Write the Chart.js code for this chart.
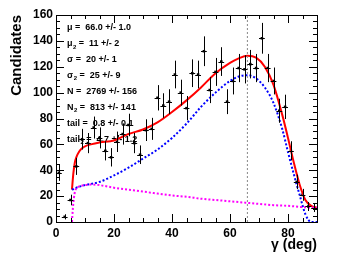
<!DOCTYPE html>
<html>
<head>
<meta charset="utf-8">
<script src="https://cdn.jsdelivr.net/npm/chart.js@4.4.0/dist/chart.umd.min.js"></script>
<style>
  html, body { margin: 0; padding: 0; background: #fff; }
  #box { width: 353px; height: 265px; }
</style>
</head>
<body>
<div id="box"><canvas id="grafico" width="353" height="265"></canvas></div>
<script>
// bins (centro) e contagens
const binX = [1, 3, 5, 7, 9, 11, 13, 15, 17, 19, 21, 23, 25, 27, 29, 31, 33, 35, 37, 39, 41, 43, 45,
              47, 49, 51, 53, 55, 57, 59, 61, 63, 65, 67, 69, 71, 73, 75, 77, 79, 81, 83, 85, 87, 89];
const contagens = [38, 4, 17, 43, 64, 61, 73, 65, 55, 50, 62, 68, 75, 61, 52, 71, 72, 96, 90, 93, 114, 100, 88,
                   115, 114, 132, 102, 116, 124, 93, 109, 119, 118, 122, 119, 142, 119, 109, 86, 89, 55, 31, 21, 12, 11];
const erros = [6.2, 2, 4.1, 6.6, 8, 7.8, 8.5, 8.1, 7.4, 7.1, 7.9, 8.2, 8.7, 7.8, 7.2, 8.4, 8.5, 9.8, 9.5, 9.6, 10.7, 10, 9.4,
               10.7, 10.7, 11.5, 10.1, 10.8, 11.1, 9.6, 10.4, 10.9, 10.9, 11, 10.9, 11.9, 10.9, 10.4, 9.3, 9.4, 7.4, 5.6, 4.6, 3.5, 3.3];
const meiaLargura = 1;

// curvas do ajuste
const totalX = [5.5, 6, 6.5, 7, 8, 9, 10, 12, 15, 20, 25, 30, 35, 40, 45, 50, 55, 60, 63, 66, 69, 72, 75, 78, 80, 82, 84, 86, 88, 90];
const totalY = [25, 38, 46, 50, 54.5, 57, 58.5, 60, 61.5, 63, 68, 71.5, 77, 85, 94, 104, 115, 123, 126.5, 128.5, 127, 120, 106, 83, 65, 46, 29, 17, 12.5, 11];
const picoX = [5.5, 7, 10, 15, 20, 25, 30, 35, 40, 45, 50, 55, 60, 63, 66, 69, 72, 75, 78, 80, 82, 84, 86, 88, 90];
const picoY = [25, 26.5, 28.5, 31, 36, 42, 49, 56, 65, 76, 89, 100, 109, 112.5, 113.5, 111, 104, 92, 72, 54, 37, 21, 6, 0, 0];
const caudaX = [5.5, 5.8, 6.2, 6.6, 7, 8, 10, 12, 15, 20, 25, 30, 35, 40, 45, 50, 55, 60, 65, 70, 75, 80, 85, 90];
const caudaY = [0, 10, 19, 24, 26, 27.5, 28.5, 29, 28.5, 26.5, 25, 23.5, 22, 20.5, 19.5, 18, 17, 16, 15, 14, 13, 12.5, 11.5, 11];

const media = 66.0;

// caixa de parametros: [simbolo, subscrito, resto]
const parametros = [
  ['\u03bc', '', ' =  66.0 +/- 1.0'],
  ['\u03bc', '2', ' =  11 +/- 2'],
  ['\u03c3', '', ' =  20 +/- 1'],
  ['\u03c3', '2', ' =  25 +/- 9'],
  ['N', '', ' =  2769 +/- 156'],
  ['N', '2', ' =  813 +/- 141'],
  ['tail', '', ' =  0.8 +/- 0.1'],
  ['tail', '2', ' =  4.7 +/- 1.2']
];

function pares(xs, ys) {
  return xs.map((x, i) => ({ x: x, y: ys[i] }));
}

const FONTE = '"Liberation Sans", Arial, sans-serif';

const pluginMoldura = {
  id: 'moldura',
  beforeDatasetsDraw(chart) {
    const ctx = chart.ctx;
    const a = chart.chartArea;
    ctx.save();
    ctx.fillStyle = '#000';
    ctx.textBaseline = 'middle';
    let y = a.top + 13;
    parametros.forEach(p => {
      let x = a.left + 11;
      ctx.font = 'bold 9px ' + FONTE;
      ctx.fillText(p[0], x, y);
      x += ctx.measureText(p[0]).width;
      if (p[1]) {
        ctx.font = 'bold 6px ' + FONTE;
        ctx.fillText(p[1], x + 0.5, y + 3);
        x += ctx.measureText(p[1]).width + 0.5;
        ctx.font = 'bold 9px ' + FONTE;
      }
      ctx.fillText(p[2], x, y);
      y += 15.9;
    });
    ctx.restore();
  },
  afterDatasetsDraw(chart) {
    const ctx = chart.ctx;
    const a = chart.chartArea;
    const sx = chart.scales.x, sy = chart.scales.y;
    ctx.save();
    // barras de erro
    ctx.strokeStyle = '#000';
    ctx.lineWidth = 1;
    binX.forEach((bx, i) => {
      const px = Math.round(sx.getPixelForValue(bx)) + 0.5;
      const py = sy.getPixelForValue(contagens[i]);
      ctx.beginPath();
      ctx.moveTo(px, sy.getPixelForValue(contagens[i] + erros[i]));
      ctx.lineTo(px, sy.getPixelForValue(Math.max(0, contagens[i] - erros[i])));
      ctx.moveTo(sx.getPixelForValue(bx - meiaLargura), Math.round(py) + 0.5);
      ctx.lineTo(sx.getPixelForValue(bx + meiaLargura), Math.round(py) + 0.5);
      ctx.stroke();
    });
    // marcas internas nos quatro lados
    ctx.beginPath();
    for (let v = 0; v <= 90; v += 5) {
      const px = Math.round(sx.getPixelForValue(v)) + 0.5;
      const len = v % 20 === 0 ? 8 : 4;
      ctx.moveTo(px, a.bottom); ctx.lineTo(px, a.bottom - len);
      ctx.moveTo(px, a.top); ctx.lineTo(px, a.top + len);
    }
    for (let v = 0; v <= 160; v += 5) {
      const py = Math.round(sy.getPixelForValue(v)) + 0.5;
      const len = v % 20 === 0 ? 8 : 4;
      ctx.moveTo(a.left, py); ctx.lineTo(a.left + len, py);
      ctx.moveTo(a.right, py); ctx.lineTo(a.right - len, py);
    }
    ctx.stroke();
    ctx.strokeRect(Math.round(a.left) + 0.5, Math.round(a.top) + 0.5,
                   Math.round(a.right - a.left), Math.round(a.bottom - a.top));
    ctx.restore();
  }
};

new Chart(document.getElementById('grafico').getContext('2d'), {
  type: 'scatter',
  data: {
    datasets: [
      {
        type: 'line',
        data: [{ x: media, y: 0 }, { x: media, y: 160 }],
        borderColor: '#888',
        borderWidth: 1,
        borderDash: [2, 2],
        pointRadius: 0
      },
      {
        type: 'line',
        data: pares(caudaX, caudaY),
        borderColor: '#ff00ff',
        borderWidth: 2,
        borderDash: [2, 2],
        pointRadius: 0,
        cubicInterpolationMode: 'monotone'
      },
      {
        type: 'line',
        data: pares(picoX, picoY),
        borderColor: '#0000ff',
        borderWidth: 2,
        borderDash: [2, 2],
        pointRadius: 0,
        cubicInterpolationMode: 'monotone'
      },
      {
        type: 'line',
        data: pares(totalX, totalY),
        borderColor: '#ff0000',
        borderWidth: 2,
        pointRadius: 0,
        cubicInterpolationMode: 'monotone'
      },
      {
        data: pares(binX, contagens),
        backgroundColor: '#000',
        borderColor: '#000',
        pointStyle: 'rect',
        pointRadius: 1.8,
        borderWidth: 0
      }
    ]
  },
  options: {
    responsive: false,
    animation: false,
    layout: { padding: { left: 0, top: 15, right: 36, bottom: 0 } },
    plugins: { legend: { display: false }, tooltip: { enabled: false } },
    scales: {
      x: {
        type: 'linear',
        min: 0, max: 90,
        grid: { display: false, drawTicks: false },
        border: { display: false },
        afterFit: s => { s.height = 43; },
        ticks: {
          stepSize: 20,
          padding: 4,
          color: '#000',
          font: { family: FONTE, size: 12, weight: 'bold' },
          maxRotation: 0,
          callback: v => (v % 20 === 0 ? v : '')
        },
        title: {
          display: true,
          text: '\u03b3 (deg)',
          align: 'end',
          color: '#000',
          padding: { top: 0, bottom: 11 },
          font: { family: FONTE, size: 14, weight: 'bold' }
        }
      },
      y: {
        min: 0, max: 160,
        grid: { display: false, drawTicks: false },
        border: { display: false },
        afterFit: s => { s.width = 56; },
        ticks: {
          stepSize: 20,
          padding: 3,
          color: '#000',
          font: { family: FONTE, size: 12, weight: 'bold' }
        },
        title: {
          display: true,
          text: 'Candidates',
          align: 'end',
          color: '#000',
          padding: { top: 8, bottom: 0 },
          font: { family: FONTE, size: 15, weight: 'bold' }
        }
      }
    }
  },
  plugins: [pluginMoldura]
});
</script>
</body>
</html>
